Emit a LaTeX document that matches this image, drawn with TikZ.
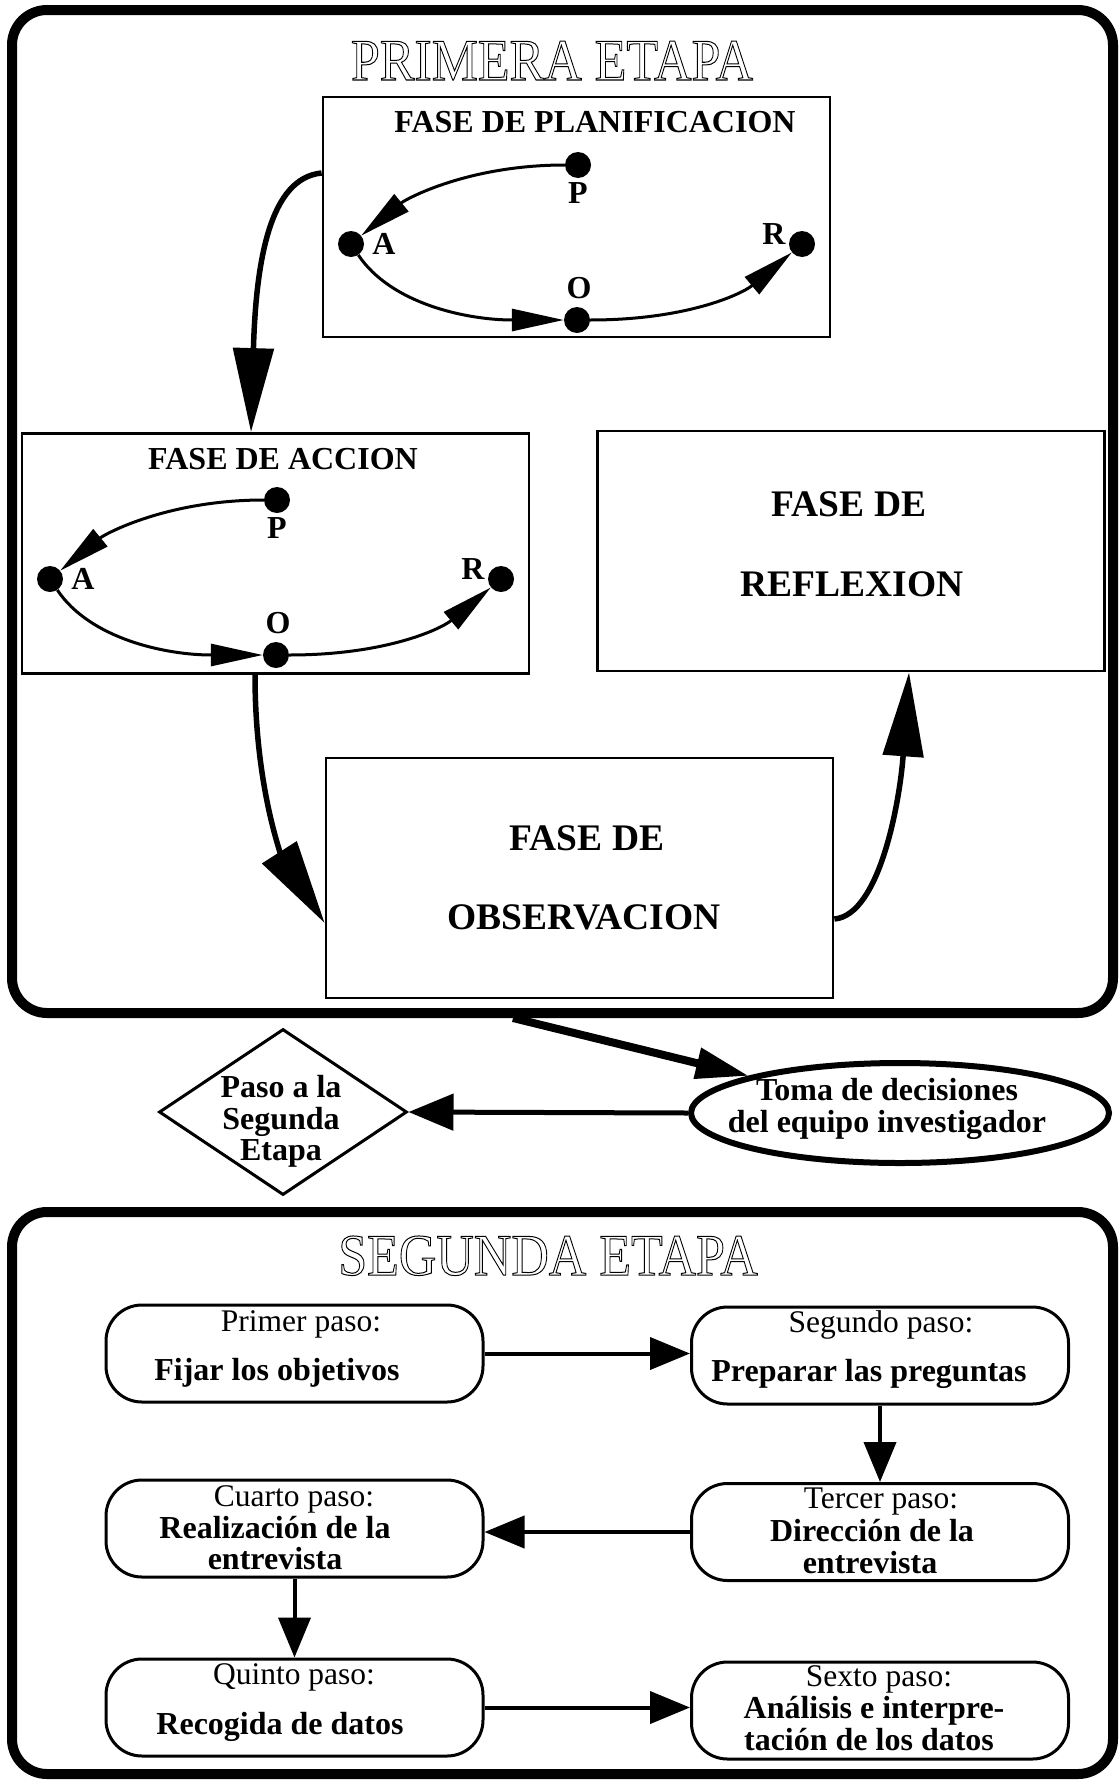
\documentclass[tikz,border=0pt]{standalone}
\usepackage{fontspec}
\setmainfont{Liberation Serif}
\usetikzlibrary{arrows.meta,shapes.geometric}
\newcommand{\outlinetxt}[1]{\special{pdf:literal direct 1 Tr 1 w}#1\special{pdf:literal direct 0 Tr}}
\newcommand{\paorcycle}[3]{%
  \begin{scope}[shift={(#2,#3)}]
    \node[dot] (#1P) at (0,0) {};
    \node[dot] (#1A) at (-227,79) {};
    \node[dot] (#1O) at (-1,155) {};
    \node[dot] (#1R) at (224,79) {};
    \node[plbl] (#1Pl) at (0,38) {P};
    \node[plbl] (#1Al) at (-194,89) {A};
    \node[plbl] (#1Ol) at (1,133) {O};
    \node[plbl] (#1Rl) at (196,79) {R};
    \draw[cyc] (#1P) .. controls +(-110,0) and +(55,-45) .. (#1A);
    \draw[cyc] (#1A) .. controls +(40,60) and +(-110,0) .. (#1O);
    \draw[cyc] (#1O) .. controls +(110,0) and +(-60,50) .. (#1R);
  \end{scope}}
\begin{document}
\begin{tikzpicture}[x=1pt,y=-1pt,
  frame/.style={draw,line width=10pt,rounded corners=35pt,rectangle,inner sep=0pt},
  phase/.style={draw,line width=2.8pt,rectangle,inner sep=0pt,minimum width=507pt,minimum height=240pt},
  stepbox/.style={draw,line width=3pt,rectangle,rounded corners=36pt,inner sep=0pt,minimum width=377pt,minimum height=97pt},
  dot/.style={circle,fill=black,inner sep=0pt,minimum size=26pt},
  plbl/.style={font=\fontsize{32}{34}\selectfont\bfseries,anchor=base,inner sep=0pt},
  ttl/.style={font=\fontsize{32}{34}\selectfont\bfseries,anchor=base,inner sep=0pt},
  big/.style={font=\fontsize{37.5}{40}\selectfont\bfseries,anchor=base,inner sep=0pt},
  rtxt/.style={font=\fontsize{31.5}{33}\selectfont,anchor=base,inner sep=0pt},
  btxt/.style={font=\fontsize{32}{33}\selectfont\bfseries,anchor=base,inner sep=0pt},
  etitle/.style={font=\fontsize{59}{60}\selectfont,anchor=base,inner sep=0pt},
  cyc/.style={line width=3pt,-{Triangle[length=52pt,width=22pt]}},
  bigarr/.style={line width=5.5pt,-{Triangle[length=84pt,width=40pt]}},
  low/.style={line width=4pt,-{Triangle[length=40pt,width=32pt]}}
]
\useasboundingbox (0,0) rectangle (1119,1780);

% frames
\node[frame,minimum width=1101pt,minimum height=1003pt] (etapa1) at (562.5,511.5) {};
\node[frame,minimum width=1101pt,minimum height=562pt] (etapa2) at (562.5,1493) {};
\node[etitle] (tit1) at (552,80) {\scalebox{0.88}[1]{\outlinetxt{PRIMERA ETAPA}}};
\node[etitle] (tit2) at (548,1275) {\scalebox{0.88}[1]{\outlinetxt{SEGUNDA ETAPA}}};

% phases
\node[phase] (planif) at (576.5,217) {};
\node[ttl] (planift) at (595,132) {FASE DE PLANIFICACION};
\node[phase] (accion) at (275.5,553.5) {};
\node[ttl] (acciont) at (283,469) {FASE DE ACCION};
\node[phase] (reflex) at (851,551) {};
\node[big] (reflex1) at (849,516) {FASE DE};
\node[big] (reflex2) at (852,596) {REFLEXION};
\node[phase] (observ) at (579.5,878) {};
\node[big] (observ1) at (587,850) {FASE DE};
\node[big] (observ2) at (584,929) {OBSERVACION};

\paorcycle{p}{578}{165}
\paorcycle{a}{277}{500}

\draw[bigarr] ([yshift=44pt]planif.west) .. controls (270,178) and (256,260) .. ([xshift=-24.5pt]accion.north);
\draw[bigarr] ([xshift=-20.5pt]accion.south) .. controls (255,790) and (283,858) .. ([yshift=-45pt]observ.west);
\draw[bigarr] ([yshift=-41pt]observ.east) .. controls (880,915) and (900,800) .. ([xshift=58pt]reflex.south);

% decision
\node[ellipse,draw,line width=6pt,minimum width=418pt,minimum height=100pt,inner sep=0pt] (toma) at (900,1113) {};
\node[btxt] (toma1) at (887,1100) {Toma de decisiones};
\node[btxt] (toma2) at (887,1132) {del equipo investigador};
\node[diamond,draw,line width=3pt,minimum width=248pt,minimum height=166pt,inner sep=0pt] (paso) at (283,1112) {};
\node[btxt] (paso1) at (281,1097) {Paso a la};
\node[btxt] (paso2) at (281,1129) {Segunda};
\node[btxt] (paso3) at (281,1160) {Etapa};
\draw[line width=8pt,-{Triangle[length=53pt,width=30pt]}] ([xshift=-49.5pt]etapa1.south) -- (toma);
\draw[line width=5pt,-{Triangle[length=45pt,width=36pt]}] (toma.west) -- (paso.east);

% second stage
\node[stepbox] (b1) at (294.5,1353.5) {};
\node[stepbox] (b2) at (880,1355.5) {};
\node[stepbox] (b3) at (880,1532) {};
\node[stepbox] (b4) at (294.5,1528.5) {};
\node[stepbox] (b5) at (294.5,1707.5) {};
\node[stepbox] (b6) at (880,1710.5) {};

\node[rtxt] (b1a) at (301,1331) {Primer paso:};
\node[btxt] (b1b) at (277,1380) {Fijar los objetivos};
\node[rtxt] (b2a) at (881,1332) {Segundo paso:};
\node[btxt] (b2b) at (869,1381) {Preparar las preguntas};
\node[rtxt] (b3a) at (881,1508) {Tercer paso:};
\node[btxt] (b3b) at (872,1541) {Dirección de la};
\node[btxt] (b3c) at (870,1573) {entrevista};
\node[rtxt] (b4a) at (294,1506) {Cuarto paso:};
\node[btxt] (b4b) at (275,1538) {Realización de la};
\node[btxt] (b4c) at (275,1569) {entrevista};
\node[rtxt] (b5a) at (294,1684) {Quinto paso:};
\node[btxt] (b5b) at (280,1734) {Recogida de datos};
\node[rtxt] (b6a) at (879,1686) {Sexto paso:};
\node[btxt] (b6b) at (874,1718) {Análisis e interpre-};
\node[btxt] (b6c) at (869,1750) {tación de los datos};

\draw[low] (b1.east) -- (b1.east -| b2.west);
\draw[low] (b2.south) -- (b3.north);
\draw[low] (b3.west) -- (b3.west -| b4.east);
\draw[low] (b4.south) -- (b5.north);
\draw[low] (b5.east) -- (b5.east -| b6.west);
\end{tikzpicture}
\end{document}
